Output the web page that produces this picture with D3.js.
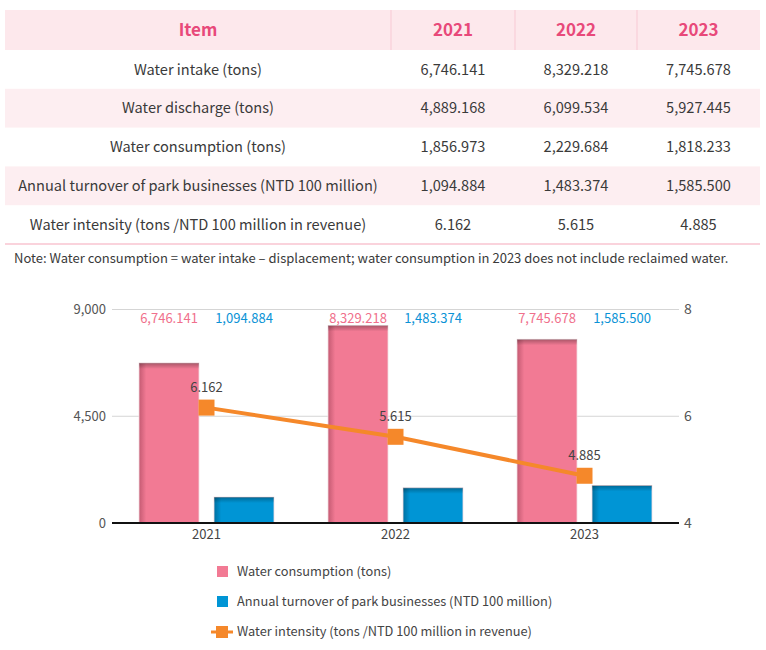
<!DOCTYPE html>
<html>
<head>
<meta charset="utf-8">
<script src="https://cdn.jsdelivr.net/npm/d3@7"></script>
<style>
  body { margin: 0; background: #fff; }
  svg text { font-family: "Noto Sans CJK TC", "Noto Sans", sans-serif; }
</style>
</head>
<body>
<div id="chart"></div>
<script>
// table + chart data
const years = ["2021", "2022", "2023"];
const rowLabels = [
    "Water intake (tons)",
    "Water discharge (tons)",
    "Water consumption (tons)",
    "Annual turnover of park businesses (NTD 100 million)",
    "Water intensity (tons /NTD 100 million in revenue)"
];
const waterIntake = [6746.141, 8329.218, 7745.678];
const waterDischarge = [4889.168, 6099.534, 5927.445];
const waterConsumption = [1856.973, 2229.684, 1818.233];
const turnover = [1094.884, 1483.374, 1585.500];
const intensity = [6.162, 5.615, 4.885];
const leftTicks = [0, 4500, 9000];
const rightTicks = [4, 6, 8];
const legendLabels = [
    "Water consumption (tons)",
    "Annual turnover of park businesses (NTD 100 million)",
    "Water intensity (tons /NTD 100 million in revenue)"
];
const note = "Note: Water consumption = water intake \u2013 displacement; water consumption in 2023 does not include reclaimed water.";

const W = 766, H = 650;
const pink = "#f27a94", blue = "#0095d5", orange = "#f5882a";

const svg = d3.select("#chart").append("svg")
    .attr("width", W)
    .attr("height", H);

// ---- table ----
const fmt3 = d3.format(",.3f");
const tableRows = [waterIntake, waterDischarge, waterConsumption, turnover, intensity];
const colX = [5, 391, 515, 637, 760]; // column edges
const headTop = 10, headH = 40, rowH = 38.8;

svg.append("rect")
    .attr("x", colX[0]).attr("y", headTop)
    .attr("width", colX[4] - colX[0]).attr("height", headH)
    .attr("fill", "#fde8ec");

// header dividers
[1, 2, 3].forEach(i => {
    svg.append("line")
        .attr("x1", colX[i]).attr("x2", colX[i])
        .attr("y1", headTop).attr("y2", headTop + headH)
        .attr("stroke", "#f8c9d4").attr("stroke-width", 1);
});

const headers = ["Item"].concat(years);
headers.forEach((h, i) => {
    svg.append("text")
        .attr("x", (colX[i] + colX[i + 1]) / 2)
        .attr("y", headTop + headH / 2)
        .attr("dy", "0.35em")
        .attr("text-anchor", "middle")
        .attr("font-size", 17)
        .attr("font-weight", "bold")
        .attr("fill", "#e8497a")
        .text(h);
});

tableRows.forEach((vals, r) => {
    const y0 = headTop + headH + r * rowH;
    if (r % 2 === 1) {
        svg.append("rect")
            .attr("x", colX[0]).attr("y", y0)
            .attr("width", colX[4] - colX[0]).attr("height", rowH)
            .attr("fill", "#fdeef1");
    }
    svg.append("text")
        .attr("x", (colX[0] + colX[1]) / 2)
        .attr("y", y0 + rowH / 2)
        .attr("dy", "0.35em")
        .attr("text-anchor", "middle")
        .attr("font-size", 14.6)
        .attr("fill", "#3a3a3a")
        .text(rowLabels[r]);
    vals.forEach((v, c) => {
        svg.append("text")
            .attr("x", (colX[c + 1] + colX[c + 2]) / 2)
            .attr("y", y0 + rowH / 2)
            .attr("dy", "0.35em")
            .attr("text-anchor", "middle")
            .attr("font-size", 14.6)
            .attr("fill", "#3a3a3a")
            .text(fmt3(v));
    });
});

const tableBottom = headTop + headH + tableRows.length * rowH;
svg.append("line")
    .attr("x1", colX[0]).attr("x2", colX[4])
    .attr("y1", tableBottom).attr("y2", tableBottom)
    .attr("stroke", "#fad3dc").attr("stroke-width", 2);

svg.append("text")
    .attr("x", 14).attr("y", 258)
    .attr("dy", "0.35em")
    .attr("font-size", 13)
    .attr("fill", "#3a3a3a")
    .text(note);

// ---- chart ----
const plot = { left: 112, right: 679, top: 309.5, bottom: 523 };

const defs = svg.append("defs");
const pinkGrad = defs.append("linearGradient").attr("id", "pinkGrad")
    .attr("x1", 0).attr("x2", 1).attr("y1", 0).attr("y2", 0);
pinkGrad.append("stop").attr("offset", 0).attr("stop-color", "#c45a72");
pinkGrad.append("stop").attr("offset", 0.12).attr("stop-color", pink);
pinkGrad.append("stop").attr("offset", 1).attr("stop-color", pink);
const blueGrad = defs.append("linearGradient").attr("id", "blueGrad")
    .attr("x1", 0).attr("x2", 1).attr("y1", 0).attr("y2", 0);
blueGrad.append("stop").attr("offset", 0).attr("stop-color", "#006f9f");
blueGrad.append("stop").attr("offset", 0.12).attr("stop-color", blue);
blueGrad.append("stop").attr("offset", 1).attr("stop-color", blue);
const topShade = defs.append("linearGradient").attr("id", "topShade")
    .attr("x1", 0).attr("x2", 0).attr("y1", 0).attr("y2", 1);
topShade.append("stop").attr("offset", 0).attr("stop-color", "#000").attr("stop-opacity", 0.3);
topShade.append("stop").attr("offset", 1).attr("stop-color", "#000").attr("stop-opacity", 0);

const x = d3.scaleBand().domain(years).range([plot.left, plot.right]);
const inner = d3.scaleBand().domain(["a", "b"])
    .range([27, x.bandwidth() - 27]).paddingInner(0.2);
const yL = d3.scaleLinear().domain([0, 9000]).range([plot.bottom, plot.top]);
const yR = d3.scaleLinear().domain([4, 8]).range([plot.bottom, plot.top]);

// gridlines
svg.append("g")
    .selectAll("line")
    .data(leftTicks)
    .join("line")
    .attr("x1", plot.left).attr("x2", plot.right)
    .attr("y1", d => yL(d)).attr("y2", d => yL(d))
    .attr("stroke", "#d5d5d5").attr("stroke-width", 1);

// left axis
const axL = svg.append("g")
    .attr("transform", `translate(${plot.left},0)`)
    .call(d3.axisLeft(yL).tickValues(leftTicks).tickFormat(d3.format(",")).tickSize(0).tickPadding(6));
axL.select(".domain").remove();
axL.selectAll("text").attr("font-size", 13).attr("fill", "#555")
    .style("font-family", "'Noto Sans CJK TC', sans-serif");

// right axis
const axR = svg.append("g")
    .attr("transform", `translate(${plot.right},0)`)
    .call(d3.axisRight(yR).tickValues(rightTicks).tickFormat(d3.format("d")).tickSize(0).tickPadding(5));
axR.select(".domain").remove();
axR.selectAll("text").attr("font-size", 14).attr("fill", "#555")
    .style("font-family", "'Noto Sans CJK TC', sans-serif");

// bars
const barData = [];
years.forEach((yr, i) => {
    barData.push({ yr, key: "a", v: waterIntake[i], fill: "url(#pinkGrad)", col: pink });
    barData.push({ yr, key: "b", v: turnover[i], fill: "url(#blueGrad)", col: blue });
});

const bars = svg.append("g").selectAll("g").data(barData).join("g");
bars.append("rect")
    .attr("x", d => x(d.yr) + inner(d.key))
    .attr("y", d => yL(d.v))
    .attr("width", inner.bandwidth())
    .attr("height", d => yL(0) - yL(d.v))
    .attr("fill", d => d.fill)
    .attr("stroke", "#f3dde2").attr("stroke-width", 0.8);
bars.append("rect")
    .attr("x", d => x(d.yr) + inner(d.key))
    .attr("y", d => yL(d.v))
    .attr("width", inner.bandwidth())
    .attr("height", 6)
    .attr("fill", "url(#topShade)");

// bar value labels at top
svg.append("g").selectAll("text").data(barData).join("text")
    .attr("x", d => x(d.yr) + inner(d.key) + inner.bandwidth() / 2)
    .attr("y", 318)
    .attr("dy", "0.35em")
    .attr("text-anchor", "middle")
    .attr("font-size", 13)
    .attr("fill", d => d.key === "a" ? "#f0708c" : "#0a93d6")
    .text(d => fmt3(d.v));

// baseline
svg.append("line")
    .attr("x1", plot.left).attr("x2", plot.right)
    .attr("y1", yL(0)).attr("y2", yL(0))
    .attr("stroke", "#111").attr("stroke-width", 2);

// x axis labels
const axX = svg.append("g")
    .attr("transform", `translate(0,${plot.bottom})`)
    .call(d3.axisBottom(x).tickSize(0).tickPadding(7));
axX.select(".domain").remove();
axX.selectAll("text").attr("font-size", 13).attr("fill", "#444")
    .style("font-family", "'Noto Sans CJK TC', sans-serif");

// intensity line
const cx = d => x(d) + x.bandwidth() / 2;
const line = d3.line().x((d, i) => cx(years[i])).y(d => yR(d));
svg.append("path")
    .datum(intensity)
    .attr("d", line)
    .attr("fill", "none")
    .attr("stroke", orange)
    .attr("stroke-width", 4);

svg.append("g").selectAll("rect").data(intensity).join("rect")
    .attr("x", (d, i) => cx(years[i]) - 8)
    .attr("y", d => yR(d) - 8)
    .attr("width", 16).attr("height", 16)
    .attr("fill", orange);

svg.append("g").selectAll("text").data(intensity).join("text")
    .attr("x", (d, i) => cx(years[i]))
    .attr("y", d => yR(d) - 16)
    .attr("text-anchor", "middle")
    .attr("font-size", 13)
    .attr("fill", "#444")
    .text(d => d3.format(".3f")(d));

// legend
const legend = svg.append("g").attr("transform", "translate(211,572)");
legendLabels.forEach((lab, i) => {
    const g = legend.append("g").attr("transform", `translate(0,${i * 30})`);
    if (i < 2) {
        g.append("rect")
            .attr("x", 6).attr("y", -6)
            .attr("width", 11).attr("height", 11)
            .attr("fill", i === 0 ? pink : blue);
    } else {
        g.append("line")
            .attr("x1", 0).attr("x2", 22)
            .attr("y1", 0).attr("y2", 0)
            .attr("stroke", orange).attr("stroke-width", 3);
        g.append("rect")
            .attr("x", 5).attr("y", -6)
            .attr("width", 12).attr("height", 12)
            .attr("fill", orange);
    }
    g.append("text")
        .attr("x", 26).attr("y", 0)
        .attr("dy", "0.35em")
        .attr("font-size", 12.8)
        .attr("fill", "#444")
        .text(lab);
});
</script>
</body>
</html>
